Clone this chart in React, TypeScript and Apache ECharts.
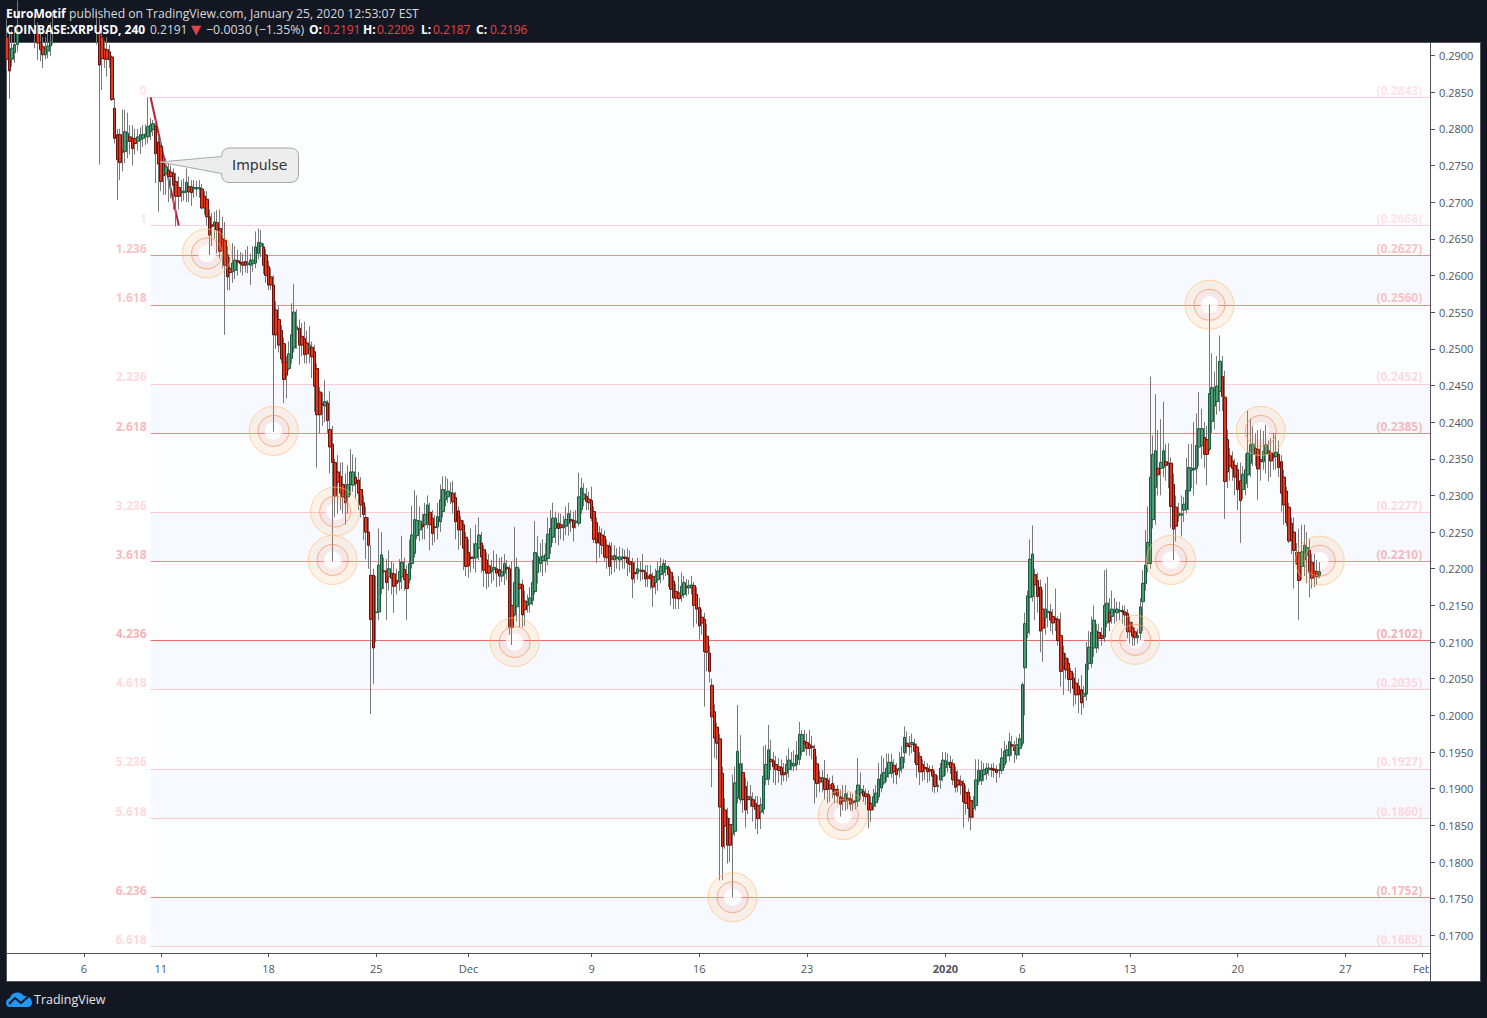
import React, { useEffect, useRef } from "react";
import * as echarts from "echarts";

// Candles: [open, close, low, high] in units of 0.0001 USD, one row per 4h bar, grouped by week from Nov 1 2019.
const week1 = [[2925,2895,2880,2950],[2908,2879,2841,2930],[2895,2910,2885,2935],[2904,2915,2890,2940],[2915,2935,2905,2975],[2935,2950,2925,2975],
[2950,2965,2940,2990],[2965,2975,2950,2995],[2975,2960,2945,2985],[2960,2945,2925,2975],[2945,2938,2925,2965],[2938,2930,2910,2955],
[2930,2917,2894,2945],[2918,2908,2892,2935],[2912,2901,2883,2925],[2901,2908,2895,2925],[2906,2913,2896,2935],[2913,2920,2899,2945],
[2920,2935,2915,2960],[2935,2955,2930,2985],[2955,2975,2945,3000],[2975,2985,2965,3010],[2985,2970,2955,3000],[2970,2980,2960,3005],
[2980,2990,2970,3020],[2990,3000,2980,3030],[3000,2985,2965,3010],[2985,2970,2950,2995],[2970,2975,2955,3000],[2975,2965,2945,2990],
[2965,2955,2935,2985],[2955,2960,2940,2985],[2960,2950,2930,2975],[2950,2945,2930,2970],[2945,2940,2925,2965],[2940,2930,2915,2960],
[2935,2887,2751,2950],[2925,2896,2853,2940],[2909,2895,2883,2920],[2908,2895,2871,2925],[2905,2894,2883,2915],[2898,2840,2838,2900]];
const week2 = [[2828,2787,2780,2842],[2792,2758,2703,2800],[2792,2754,2730,2800],[2771,2768,2742,2826],[2769,2796,2753,2826],[2783,2794,2760,2822],
[2789,2783,2765,2805],[2787,2773,2750,2805],[2787,2780,2765,2800],[2783,2789,2770,2800],[2785,2792,2766,2802],[2787,2792,2775,2805],
[2790,2793,2778,2806],[2789,2803,2780,2843],[2796,2805,2785,2815],[2799,2807,2790,2812],[2803,2766,2726,2812],[2782,2752,2687,2790],
[2776,2728,2715,2785],[2753,2736,2710,2760],[2739,2748,2710,2760],[2744,2735,2700,2755],[2741,2735,2705,2750],[2739,2723,2690,2746],
[2728,2708,2667,2740],[2720,2708,2690,2735],[2713,2715,2700,2730],[2713,2715,2702,2732],[2714,2727,2700,2746],[2721,2714,2700,2735],
[2721,2713,2695,2730],[2718,2720,2706,2730],[2718,2720,2708,2729],[2718,2720,2706,2730],[2718,2692,2690,2725],[2708,2692,2683,2715],
[2704,2680,2668,2715],[2680,2655,2628,2690],[2669,2667,2640,2685],[2669,2673,2650,2687],[2672,2662,2630,2689],[2664,2633,2623,2690]];
const week3 = [[2650,2635,2610,2680],[2648,2614,2519,2673],[2628,2598,2580,2640],[2610,2604,2580,2625],[2605,2617,2590,2644],[2607,2621,2595,2640],
[2620,2618,2600,2635],[2618,2616,2604,2632],[2618,2614,2600,2630],[2619,2614,2604,2635],[2615,2617,2603,2640],[2614,2621,2587,2630],
[2616,2621,2605,2640],[2617,2639,2610,2660],[2630,2645,2622,2664],[2640,2644,2625,2662],[2639,2614,2602,2644],[2628,2600,2590,2636],
[2612,2587,2580,2620],[2598,2587,2580,2610],[2587,2519,2387,2600],[2553,2519,2500,2565],[2540,2505,2495,2558],[2525,2486,2480,2532],
[2507,2458,2426,2515],[2482,2464,2432,2490],[2473,2493,2470,2510],[2487,2519,2480,2562],[2501,2550,2495,2588],[2526,2530,2500,2554],
[2528,2505,2478,2540],[2517,2505,2490,2535],[2514,2492,2480,2537],[2508,2493,2480,2525],[2500,2505,2480,2531],[2502,2489,2460,2510],
[2496,2449,2414,2505],[2473,2410,2338,2480],[2441,2410,2385,2448],[2425,2424,2395,2440],[2422,2428,2400,2457],[2426,2402,2385,2430]];
const week4 = [[2390,2366,2330,2442],[2370,2345,2210,2395],[2345,2299,2270,2350],[2332,2318,2275,2355],[2326,2303,2280,2345],[2315,2298,2275,2345],
[2307,2290,2260,2330],[2298,2315,2275,2341],[2315,2332,2300,2363],[2314,2332,2305,2356],[2325,2316,2295,2352],[2321,2303,2280,2332],
[2308,2287,2270,2325],[2290,2274,2239,2300],[2270,2250,2213,2285],[2250,2232,2200,2270],[2191,2131,2002,2232],[2191,2092,2043,2200],
[2140,2141,2100,2190],[2141,2205,2130,2255],[2173,2219,2165,2250],[2197,2196,2172,2215],[2197,2181,2130,2213],[2189,2200,2170,2225],
[2194,2187,2165,2210],[2193,2176,2140,2208],[2184,2180,2165,2200],[2182,2196,2170,2213],[2189,2209,2172,2245],[2199,2185,2170,2215],
[2192,2173,2130,2205],[2185,2207,2180,2240],[2207,2246,2200,2286],[2221,2267,2215,2307],[2245,2266,2240,2300],[2253,2265,2238,2285],
[2260,2257,2240,2275],[2260,2274,2240,2290],[2273,2287,2255,2300],[2277,2260,2225,2290],[2269,2248,2232,2280],[2257,2256,2236,2273]];
const week5 = [[2257,2271,2240,2290],[2264,2294,2250,2315],[2278,2308,2270,2326],[2294,2303,2285,2326],[2298,2306,2290,2323],[2303,2304,2288,2318],
[2303,2291,2275,2320],[2297,2264,2240,2305],[2279,2253,2226,2285],[2266,2253,2232,2272],[2260,2228,2198,2266],[2243,2203,2190,2250],
[2222,2204,2188,2240],[2216,2214,2195,2255],[2214,2216,2200,2235],[2215,2234,2195,2260],[2228,2246,2212,2270],[2235,2216,2195,2250],
[2226,2198,2175,2232],[2212,2194,2172,2222],[2204,2194,2175,2220],[2196,2198,2180,2212],[2199,2202,2184,2225],[2200,2194,2175,2220],
[2199,2190,2176,2215],[2190,2196,2182,2216],[2194,2207,2178,2220],[2202,2200,2185,2212],[2200,2120,2110,2205],[2150,2120,2096,2210],
[2137,2181,2135,2257],[2148,2202,2128,2215],[2179,2173,2120,2200],[2178,2137,2120,2185],[2156,2144,2122,2170],[2150,2154,2140,2165],
[2152,2160,2140,2175],[2157,2181,2150,2212],[2169,2222,2165,2265],[2195,2217,2180,2245],[2207,2215,2195,2235],[2211,2217,2190,2240]];
const week6 = [[2211,2219,2195,2235],[2214,2247,2205,2270],[2230,2255,2220,2280],[2243,2269,2235,2290],[2255,2269,2235,2278],[2262,2255,2232,2276],
[2260,2256,2240,2275],[2256,2258,2238,2272],[2258,2267,2246,2285],[2262,2275,2245,2290],[2267,2265,2250,2280],[2266,2256,2237,2278],
[2263,2265,2255,2280],[2262,2298,2258,2331],[2281,2310,2275,2324],[2295,2302,2285,2317],[2299,2292,2280,2310],[2295,2290,2280,2305],
[2293,2269,2265,2312],[2278,2240,2235,2285],[2263,2235,2208,2270],[2249,2235,2215,2258],[2246,2232,2220,2255],[2244,2216,2210,2252],
[2232,2215,2200,2240],[2231,2203,2190,2236],[2217,2213,2192,2236],[2212,2218,2195,2232],[2214,2216,2200,2228],[2212,2216,2198,2230],
[2215,2216,2200,2228],[2216,2214,2200,2226],[2215,2208,2190,2228],[2210,2206,2195,2225],[2208,2186,2160,2215],[2195,2193,2180,2210],
[2194,2200,2185,2215],[2198,2197,2183,2210],[2198,2196,2185,2220],[2195,2186,2175,2205],[2190,2187,2175,2205],[2192,2186,2172,2205]];
const week7 = [[2189,2175,2148,2195],[2181,2190,2165,2200],[2185,2197,2170,2210],[2192,2203,2180,2215],[2195,2207,2185,2213],[2200,2203,2190,2212],
[2202,2192,2175,2205],[2195,2172,2150,2200],[2183,2160,2145,2190],[2169,2160,2145,2180],[2167,2159,2145,2190],[2163,2176,2155,2195],
[2165,2181,2160,2190],[2175,2174,2162,2186],[2174,2177,2165,2185],[2174,2178,2165,2190],[2177,2150,2120,2182],[2165,2145,2125,2175],
[2147,2122,2103,2160],[2134,2126,2110,2145],[2131,2087,2012,2140],[2108,2086,2060,2125],[2085,2060,2045,2095],[2041,1998,1902,2050],
[2005,1969,1942,2015],[1984,1962,1940,1990],[1968,1875,1775,1975],[1921,1821,1775,1930],[1871,1849,1818,1887],[1860,1823,1798,1874],
[1851,1823,1800,1860],[1838,1851,1752,1919],[1842,1908,1835,1930],[1887,1951,1880,2014],[1885,1934,1880,1973],[1922,1885,1867,1935],
[1903,1871,1847,1915],[1889,1885,1865,1910],[1885,1889,1875,1905],[1885,1876,1855,1895],[1880,1872,1845,1890],[1877,1859,1838,1890]];
const week8 = [[1868,1878,1845,1888],[1872,1917,1865,1958],[1913,1933,1905,1960],[1913,1953,1905,1987],[1940,1937,1925,1967],[1938,1930,1908,1950],
[1933,1926,1905,1945],[1930,1925,1908,1942],[1929,1919,1905,1940],[1922,1919,1910,1935],[1921,1933,1910,1945],[1926,1939,1915,1955],
[1933,1935,1925,1950],[1931,1934,1924,1952],[1933,1946,1925,1965],[1940,1974,1932,1991],[1951,1974,1945,1980],[1965,1961,1950,1980],
[1963,1955,1945,1975],[1960,1955,1945,1980],[1958,1956,1940,1972],[1954,1912,1880,1960],[1934,1907,1888,1945],[1915,1909,1895,1925],
[1910,1915,1895,1925],[1914,1899,1885,1939],[1912,1899,1880,1920],[1905,1900,1882,1915],[1907,1899,1887,1918],[1899,1892,1880,1905],
[1899,1890,1880,1905],[1889,1879,1862,1899],[1887,1883,1870,1905],[1883,1893,1870,1905],[1887,1884,1872,1895],[1886,1879,1870,1895],
[1883,1881,1870,1893],[1882,1884,1872,1898],[1883,1905,1875,1942],[1894,1899,1885,1922],[1896,1890,1882,1905],[1893,1889,1878,1900]];
const week9 = [[1892,1871,1846,1898],[1880,1871,1855,1890],[1876,1889,1870,1900],[1881,1894,1875,1905],[1889,1913,1884,1935],[1901,1919,1895,1945],
[1908,1922,1905,1942],[1916,1928,1910,1948],[1921,1936,1915,1948],[1921,1936,1915,1948],[1932,1923,1907,1940],[1927,1919,1906,1935],
[1925,1928,1915,1950],[1928,1943,1922,1958],[1949,1970,1935,1985],[1962,1958,1948,1978],[1958,1957,1945,1972],[1960,1963,1948,1975],
[1961,1951,1935,1968],[1957,1933,1915,1962],[1944,1923,1905,1950],[1933,1923,1910,1940],[1929,1927,1912,1938],[1928,1923,1908,1935],
[1926,1924,1910,1932],[1926,1917,1896,1932],[1919,1903,1894,1925],[1903,1905,1895,1918],[1912,1928,1900,1935],[1917,1939,1910,1950],
[1929,1938,1918,1950],[1933,1936,1922,1948],[1936,1929,1920,1945],[1934,1912,1905,1940],[1923,1902,1895,1930],[1912,1905,1895,1925],
[1910,1905,1892,1918],[1907,1882,1847,1912],[1895,1880,1865,1905],[1895,1873,1855,1900],[1884,1861,1843,1890],[1873,1882,1860,1890]];
const week10 = [[1877,1912,1870,1940],[1910,1925,1905,1940],[1911,1925,1905,1938],[1919,1926,1910,1935],[1921,1928,1912,1935],[1926,1928,1918,1935],
[1928,1926,1916,1934],[1927,1925,1915,1935],[1926,1922,1908,1932],[1925,1926,1915,1935],[1925,1942,1920,1955],[1933,1951,1928,1965],
[1945,1953,1935,1960],[1945,1964,1938,1976],[1960,1958,1945,1972],[1956,1952,1935,1965],[1946,1960,1940,1970],[1955,1968,1945,1975],
[1962,2042,1958,2045],[2065,2125,2000,2140],[2113,2163,2105,2170],[2161,2213,2110,2240],[2162,2220,2155,2259],[2192,2178,2130,2200],
[2184,2162,2140,2195],[2175,2115,2086,2185],[2145,2119,2073,2172],[2133,2145,2110,2180],[2140,2142,2120,2189],[2141,2130,2115,2152],
[2135,2126,2110,2145],[2132,2131,2115,2173],[2131,2102,2095,2135],[2109,2060,2039,2140],[2085,2065,2028,2095],[2078,2062,2050,2085],
[2071,2049,2033,2078],[2060,2049,2030,2065],[2051,2037,2012,2058],[2044,2028,2015,2065],[2040,2028,2003,2050],[2035,2017,2001,2055]];
const week11 = [[2026,2030,2010,2040],[2029,2070,2020,2100],[2071,2093,2062,2115],[2071,2113,2065,2135],[2092,2130,2080,2150],[2092,2115,2085,2125],
[2113,2105,2090,2125],[2109,2105,2095,2120],[2107,2150,2100,2198],[2126,2153,2120,2200],[2141,2128,2115,2160],[2135,2145,2125,2170],
[2141,2143,2125,2160],[2140,2145,2128,2155],[2142,2143,2130,2155],[2143,2141,2125,2150],[2141,2137,2122,2150],[2139,2114,2105,2145],
[2127,2114,2098,2135],[2120,2108,2095,2128],[2114,2106,2095,2120],[2106,2109,2098,2118],[2112,2148,2103,2160],[2155,2180,2115,2198],
[2180,2205,2170,2253],[2207,2236,2195,2285],[2207,2325,2200,2462],[2267,2356,2255,2382],[2311,2361,2260,2438],[2337,2328,2300,2389],
[2337,2345,2300,2404],[2338,2361,2325,2428],[2346,2341,2320,2370],[2344,2343,2310,2371],[2344,2285,2256,2352],[2315,2254,2212,2330],
[2284,2258,2237,2300],[2272,2276,2264,2290],[2273,2275,2244,2300],[2280,2288,2264,2298],[2281,2307,2275,2351],[2306,2338,2280,2370]];
const week12 = [[2334,2337,2310,2370],[2335,2337,2300,2400],[2337,2368,2315,2412],[2366,2391,2340,2441],[2368,2391,2350,2418],[2379,2356,2337,2400],
[2376,2356,2314,2395],[2363,2439,2360,2560],[2401,2447,2385,2494],[2422,2443,2390,2469],[2428,2449,2410,2490],[2442,2483,2415,2518],
[2462,2435,2415,2490],[2434,2319,2268,2470],[2376,2332,2310,2390],[2354,2340,2320,2365],[2347,2337,2320,2360],[2341,2325,2300,2350],
[2335,2308,2280,2345],[2320,2293,2235,2345],[2308,2329,2295,2340],[2316,2335,2300,2357],[2328,2358,2310,2416],[2344,2369,2325,2405],
[2356,2370,2340,2394],[2364,2357,2340,2385],[2363,2336,2294,2389],[2349,2346,2320,2390],[2346,2360,2335,2388],[2357,2369,2330,2396],
[2361,2357,2319,2375],[2358,2347,2325,2378],[2355,2352,2335,2385],[2353,2359,2335,2385],[2356,2338,2325,2375],[2346,2303,2278,2355],
[2325,2287,2260,2335],[2306,2263,2258,2312],[2284,2238,2235,2290],[2262,2238,2220,2270],[2250,2225,2173,2270],[2222,2207,2205,2235],
[2222,2184,2130,2254],[2203,2223,2185,2260],[2212,2232,2190,2260],[2219,2229,2180,2250],[2225,2195,2161,2240],[2209,2187,2173,2220],
[2197,2191,2175,2220],[2196,2189,2178,2212],[2191,2196,2187,2209]];

const slotCount = 556;
const tickSlots = [30, 60, 102, 144, 180, 228, 270, 312, 366, 396, 438, 480, 522, 552];
const tickLabels = ["6", "11", "18", "25", "Dec", "9", "16", "23", "2020", "6", "13", "20", "27", "Feb"];
const priceTicks = [0.29, 0.285, 0.28, 0.275, 0.27, 0.265, 0.26, 0.255, 0.25, 0.245, 0.24, 0.235, 0.23, 0.225, 0.22, 0.215, 0.21, 0.205, 0.2, 0.195, 0.19, 0.185, 0.18, 0.175, 0.17];

const fibRatios = ["0", "1", "1.236", "1.618", "2.236", "2.618", "3.236", "3.618", "4.236", "4.618", "5.236", "5.618", "6.236", "6.618"];
const fibPrices = [0.2843, 0.2668, 0.2627, 0.256, 0.2452, 0.2385, 0.2277, 0.221, 0.2102, 0.2035, 0.1927, 0.186, 0.1752, 0.1685];
const fibLineColors = ["#ffd0d5", "#ffd0d5", "#f08c8c", "#f08585", "#ffcdd2", "#f08585", "#ffc8ce", "#f08c8c", "#ec6a6a", "#ffc8ce", "#ffc8ce", "#ffc8ce", "#f08585", "#ffcdd2"];
const fibTextColors = ["#ffdde1", "#ffdde1", "#f9b4b4", "#f9b4b4", "#ffd0d4", "#f6a7ab", "#ffd0d4", "#f6a7ab", "#f29ca3", "#ffd0d4", "#ffd0d4", "#ffd0d4", "#f6a7ab", "#ffd0d4"];
const bandColors = ["#fcfdff", "#fcfdff", "#f6f9ff", "#fcfdff", "#f6f9ff", "#fcfdff", "#f6f9ff", "#fcfdff", "#f6f9ff", "#fcfdff", "#f6f9ff", "#fcfdff", "#f6f9ff"];

const impulseSlots = [56, 67];
const impulsePrices = [0.2843, 0.2668];
const fibStartSlot = 56;
const fibLabelSlot = 552;

const targetSlots = [78, 104, 128, 127, 198, 326, 283, 440, 454, 469, 489, 512];
const targetPrices = [0.263, 0.2388, 0.2278, 0.2212, 0.21, 0.1864, 0.1752, 0.2103, 0.2212, 0.256, 0.2388, 0.2211];

const HEADER = "\"Open Sans\", sans-serif";

echarts.graphic.registerShape("impulseCallout", echarts.graphic.extendPath(
  "M229 148 L290 148 Q298.5 148 298.5 156 L298.5 174 Q298.5 182.5 290 182.5 L229 182.5 Q221.5 182.5 221.5 173.5 L160 162 L221.5 156.5 Q222 148 229 148 Z", {}));
echarts.graphic.registerShape("tvCloud", echarts.graphic.extendPath(
  "M6 1003 Q6 999 10 998 Q11 993 17 992.5 Q21 992 24 996 Q31 996 32 1002 Q32 1007 28 1007 L10 1007 Q6 1007 6 1003 Z", {}));

export default function App() {
  const ref = useRef<HTMLDivElement>(null);
  useEffect(() => {
    document.body.style.margin = "0";
    document.body.style.background = "#131722";
    document.body.style.overflow = "hidden";
    const chart = echarts.init(ref.current!, undefined, { renderer: "svg" });

    const bars = [...week1, ...week2, ...week3, ...week4, ...week5, ...week6, ...week7, ...week8, ...week9, ...week10, ...week11, ...week12]
      .map((r) => r.map((v) => v / 10000));
    const categories: string[] = [];
    for (let i = 0; i < slotCount; i++) {
      const k = tickSlots.indexOf(i);
      categories.push(k >= 0 ? tickLabels[k] : "");
    }
    const isTick = (i: number) => tickSlots.indexOf(i) >= 0;
    const wickData = bars.map((b) => [Math.min(b[0], b[1]), Math.max(b[0], b[1]), b[2], b[3]]);
    const bodyData = bars.map((b) => [b[0], b[1], Math.min(b[0], b[1]), Math.max(b[0], b[1])]);
    const targets = targetSlots.map((s, i) => [s, targetPrices[i]]);

    const headerText = (x: number, y: number, text: string, fill: string, bold = false, size = 12, family = HEADER): any => ({
      type: "text", x, y, z: 60,
      style: { text, fill, font: `${bold ? "bold " : ""}${size}px ${family}`, textVerticalAlign: "middle" },
    });

    chart.setOption({
      animation: false,
      backgroundColor: "#131722",
      grid: { left: 7, top: 43, width: 1423, height: 910, containLabel: false },
      xAxis: {
        type: "category", data: categories, boundaryGap: false,
        axisLine: { lineStyle: { color: "#50535e", width: 1 }, onZero: false },
        axisTick: { alignWithLabel: true, interval: (i: number) => isTick(i), length: 4, lineStyle: { color: "#50535e" } },
        axisLabel: {
          interval: (i: number) => isTick(i), color: "#50535e", fontSize: 11, fontFamily: HEADER, margin: 10,
          formatter: (v: string) => (v === "2020" ? "{b|2020}" : v),
          rich: { b: { fontWeight: "bold", fontSize: 11, fontFamily: HEADER, color: "#50535e" } },
        },
        splitLine: { show: false },
      },
      yAxis: {
        type: "value", position: "right", min: 0.167591, max: 0.291705, scale: true,
        axisLine: { show: true, lineStyle: { color: "#50535e", width: 1 } },
        axisTick: { show: true, length: 5, lineStyle: { color: "#50535e" }, customValues: priceTicks },
        axisLabel: { color: "#50535e", fontSize: 11, fontFamily: HEADER, margin: 9, customValues: priceTicks, formatter: (v: number) => v.toFixed(4) },
        splitLine: { show: false },
      },
      series: [
        {
          name: "Fib ratios", type: "scatter", z: 1, symbolSize: 0, silent: true,
          data: fibPrices.map((p, i) => ({
            value: [fibStartSlot, p],
            label: { show: true, position: "left", distance: 4, offset: [0, -7], formatter: fibRatios[i], color: fibTextColors[i], fontSize: 12, fontWeight: "bold", fontFamily: HEADER },
          })),
          markArea: {
            silent: true, z: 1,
            data: bandColors.map((c, i) => [
              { xAxis: fibStartSlot, yAxis: fibPrices[i], itemStyle: { color: c } },
              { xAxis: slotCount - 1, yAxis: fibPrices[i + 1] },
            ]),
          },
          markLine: {
            silent: true, symbol: "none", label: { show: false }, z: 1,
            data: fibPrices.map((p, i) => [
              { xAxis: fibStartSlot, yAxis: p, lineStyle: { color: fibLineColors[i], width: 1, type: "solid", opacity: 1 } },
              { xAxis: slotCount - 1, yAxis: p },
            ]),
          },
        },
        {
          name: "Fib prices", type: "scatter", z: 1, symbolSize: 0, silent: true,
          data: fibPrices.map((p, i) => ({
            value: [fibLabelSlot, p],
            label: { show: true, position: "left", distance: 0, offset: [0, -7], formatter: `(${p.toFixed(4)})`, color: fibTextColors[i], fontSize: 12, fontWeight: "bold", fontFamily: HEADER },
          })),
        },
        {
          name: "Target centres", type: "scatter", z: 2, silent: true, symbol: "circle", symbolSize: 18,
          itemStyle: { color: "#ffffff" }, data: targets,
        },
        {
          name: "Impulse", type: "line", z: 3, silent: true, showSymbol: false,
          lineStyle: { color: "#b7223a", width: 2 },
          data: impulseSlots.map((s, i) => [s, impulsePrices[i]]),
        },
        {
          name: "Wicks", type: "candlestick", z: 4, silent: true, barWidth: 1, data: wickData,
          itemStyle: { color: "#787878", color0: "#787878", borderColor: "#787878", borderColor0: "#787878", borderWidth: 1 },
        },
        {
          name: "XRPUSD", type: "candlestick", z: 5, silent: true, barWidth: 3, data: bodyData,
          itemStyle: { color: "#4e9a75", color0: "#dc3a20", borderColor: "#1b5a3c", borderColor0: "#6a110c", borderWidth: 1, borderColorDoji: "#6a110c" },
        },
        {
          name: "Target rings", type: "custom", z: 6, silent: true, data: targets, clip: true,
          renderItem: (_p: any, api: any) => {
            const c = api.coord([api.value(0), api.value(1)]);
            return {
              type: "group",
              children: [
                { type: "ring", shape: { cx: c[0], cy: c[1], r: 24.5, r0: 15.5 }, style: { fill: "rgba(255,170,80,0.13)" } },
                { type: "ring", shape: { cx: c[0], cy: c[1], r: 15.5, r0: 8.5 }, style: { fill: "rgba(240,130,100,0.15)" } },
                { type: "circle", shape: { cx: c[0], cy: c[1], r: 24.5 }, style: { fill: "none", stroke: "rgba(255,190,120,0.65)", lineWidth: 1 } },
                { type: "circle", shape: { cx: c[0], cy: c[1], r: 15.5 }, style: { fill: "none", stroke: "rgba(245,150,100,0.75)", lineWidth: 1 } },
              ],
            };
          },
        },
      ],
      graphic: [
        { type: "rect", z: -10, shape: { x: 6.5, y: 42.5, width: 1474, height: 939 }, style: { fill: "#ffffff", stroke: "#50535e", lineWidth: 1 } },
        { type: "rect", z: 40, shape: { x: 1429, y: 954, width: 51, height: 27 }, style: { fill: "#ffffff" } },
        { type: "line", z: 41, shape: { x1: 1430.5, y1: 953, x2: 1430.5, y2: 981 }, style: { stroke: "#50535e", lineWidth: 1 } },
        { type: "impulseCallout", x: 0, y: 0, z: 50, style: { fill: "rgba(235,235,235,0.92)", stroke: "#a8a8a8", lineWidth: 1 } },
        { type: "text", x: 232, y: 165, z: 51, style: { text: "Impulse", fill: "#333333", font: "14px \"DejaVu Sans\", sans-serif", textVerticalAlign: "middle" } },
        headerText(6, 13, "EuroMotif", "#ffffff", true),
        headerText(69, 13, "published on TradingView.com, January 25, 2020 12:53:07 EST", "#d8d9dc", false, 12.2),
        headerText(6, 29, "COINBASE:XRPUSD, 240", "#ffffff", true),
        headerText(150, 29, "0.2191", "#d8d9dc"),
        headerText(191, 29, "▼", "#e0434b", false, 13, "\"DejaVu Sans\""),
        headerText(206, 29, "−0.0030 (−1.35%)", "#d8d9dc", false, 12.4),
        headerText(309, 29, "O:", "#ffffff", true),
        headerText(323, 29, "0.2191", "#e0434b"),
        headerText(363, 29, "H:", "#ffffff", true),
        headerText(377, 29, "0.2209", "#e0434b"),
        headerText(421, 29, "L:", "#ffffff", true),
        headerText(433, 29, "0.2187", "#e0434b"),
        headerText(476, 29, "C:", "#ffffff", true),
        headerText(490, 29, "0.2196", "#e0434b"),
        { type: "tvCloud", x: 0, y: 0, z: 60, style: { fill: "#2196f3" } },
        { type: "polyline", z: 61, shape: { points: [[9, 1004], [15, 998], [21, 1003], [28, 997]] }, style: { fill: "none", stroke: "#131722", lineWidth: 2 } },
        { type: "text", x: 34, y: 999, z: 60, style: { text: "TradingView", fill: "#e6e6e8", font: `12.5px ${HEADER}`, textVerticalAlign: "middle" } },
      ],
    });
    return () => chart.dispose();
  }, []);
  return <div ref={ref} style={{ width: 1487, height: 1018 }} />;
}
